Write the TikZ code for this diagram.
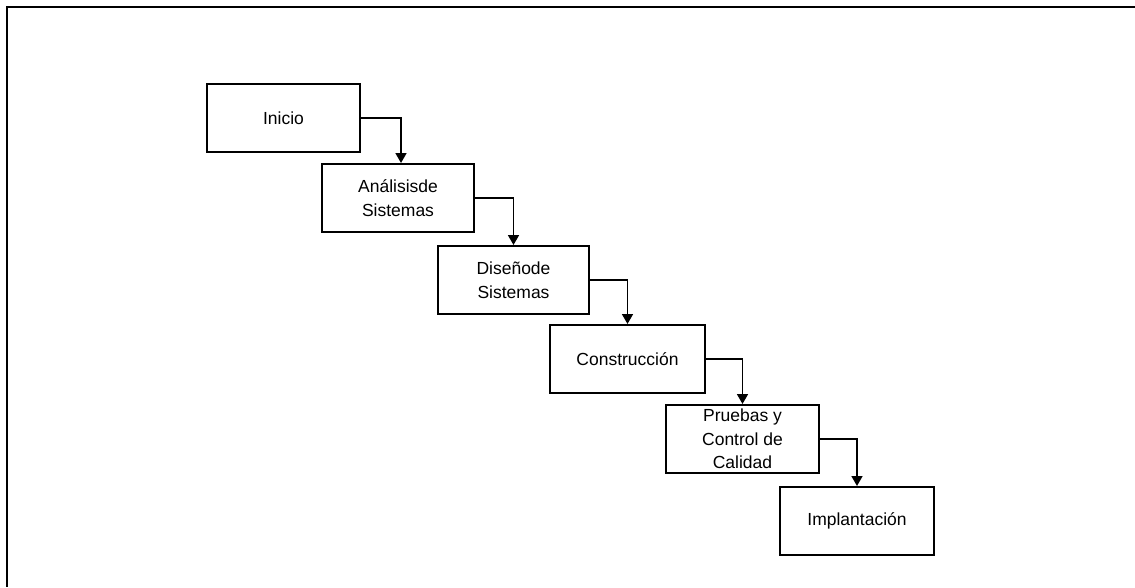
\documentclass[tikz,border=0pt]{standalone}
\usepackage{fontspec}
\setmainfont{Liberation Sans}
\usetikzlibrary{arrows.meta}
\begin{document}
\begin{tikzpicture}[x=1pt,y=-1pt,
  stagebox/.style={draw,line width=2pt,anchor=north west,inner sep=0pt,
    minimum width=#1,minimum height=68pt,align=center,
    font=\fontsize{17.5}{23.5}\selectfont},
  stagebox/.default=153pt,
  flow/.style={line width=1.7pt,-{Triangle[length=10pt,width=11pt]}}]
\useasboundingbox (0,0) rectangle (1135,587);
\draw[line width=2.8pt] (1135,7) -- (7,7) -- (7,587);
\node[stagebox] (inicio) at (206,83) {Inicio};
\node[stagebox=152pt] (analisis) at (321,163) {Análisisde\\Sistemas};
\node[stagebox=151pt] (diseno) at (437,245) {Diseñode\\Sistemas};
\node[stagebox=155pt] (construccion) at (549,324) {Construcción};
\node[stagebox=153pt] (pruebas) at (665,404) {Pruebas y\\Control de\\Calidad};
\node[stagebox=154pt] (implantacion) at (779,486) {Implantación};
\draw[flow] (inicio.east) -| ([xshift=3pt]analisis.north);
\draw[flow] (analisis.east) -| (diseno.north);
\draw[flow] (diseno.east) -| (construccion.north);
\draw[flow] (construccion.east) -| (pruebas.north);
\draw[flow] (pruebas.east) -| (implantacion.north);
\end{tikzpicture}
\end{document}
